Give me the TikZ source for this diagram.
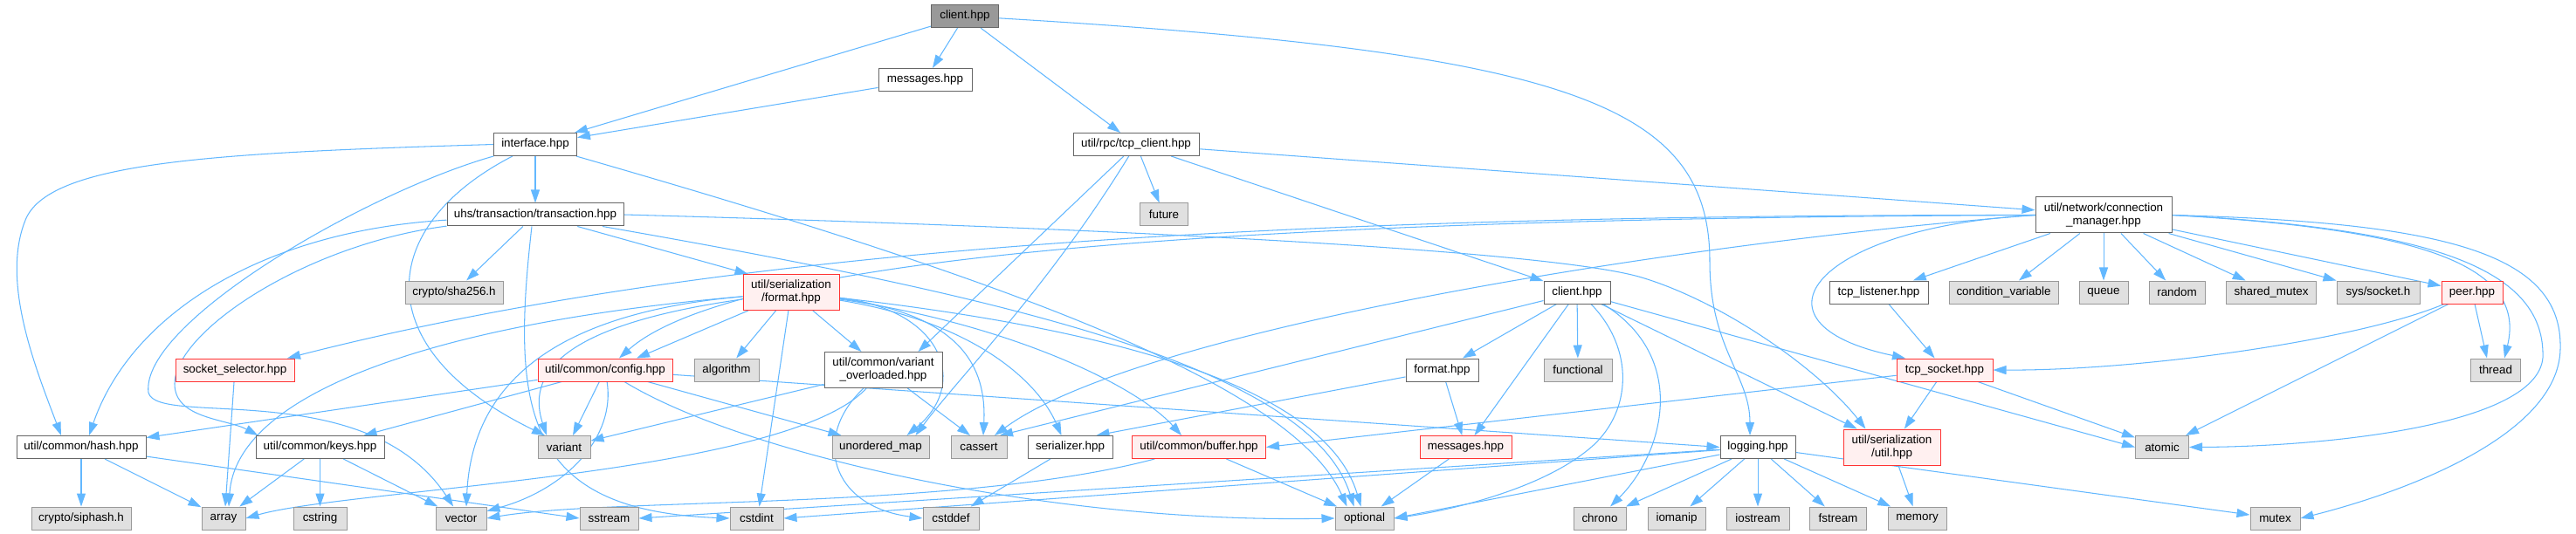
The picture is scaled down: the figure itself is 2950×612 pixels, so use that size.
\documentclass[tikz,border=0pt]{standalone}
\usepackage{fontspec}
\setmainfont{Liberation Sans}
\usetikzlibrary{arrows.meta}
\definecolor{eb}{HTML}{63B8FF}
\definecolor{cdark}{HTML}{666666}
\definecolor{cmid}{HTML}{999999}
\definecolor{clight}{HTML}{E0E0E0}
\definecolor{cred}{HTML}{FF3333}
\definecolor{cpink}{HTML}{FFF0F0}
\pgfdeclarelayer{bg}
\pgfsetlayers{bg,main}
\begin{document}
\begin{tikzpicture}[x=1pt,y=-1pt,
  box/.style={draw, line width=1pt, rectangle, inner sep=0pt, minimum height=26pt,
    font=\fontsize{13.4}{15}\selectfont, align=center, text=black},
  plain/.style={box, draw=cdark, fill=white},
  ext/.style={box, draw=cmid, fill=clight},
  hot/.style={box, draw=cred, fill=cpink},
  root/.style={box, draw=cdark, fill=cmid},
  tall/.style={minimum height=41pt},
  e/.style={draw=eb, line width=1.05pt, -{Triangle[length=15pt,width=10pt]}}
]
\useasboundingbox (0,0) rectangle (2950,612);

% row 0-2
\node[root, minimum width=77pt] (C0) at (1105,18.5) {client.hpp};
\node[plain, minimum width=107pt] (M0) at (1059.5,91.5) {messages.hpp};
\node[plain, minimum width=95pt] (IF) at (613,165.5) {interface.hpp};
\node[plain, minimum width=144pt] (TC) at (1301,165.5) {util/rpc/tcp\_client.hpp};
% row 3
\node[plain, minimum width=202pt] (TX) at (613,246) {uhs/transaction/transaction.hpp};
\node[ext, minimum width=55pt] (FUT) at (1333,246) {future};
\node[plain, tall, minimum width=156pt] (CM) at (2409,246.5) {util/network/connection\\\_manager.hpp};
% row 4
\node[ext, minimum width=112pt] (SHA) at (520,335) {crypto/sha256.h};
\node[hot, tall, minimum width=110pt] (FMT) at (906,335) {util/serialization\\/format.hpp};
\node[plain, minimum width=76pt] (CL2) at (1806,335) {client.hpp};
\node[plain, minimum width=113pt] (TL) at (2151.5,335) {tcp\_listener.hpp};
\node[ext, minimum width=125pt] (CV) at (2294.5,335) {condition\_variable};
\node[ext, minimum width=56pt] (Q) at (2409,335) {queue};
\node[ext, minimum width=64pt] (RND) at (2493,335) {random};
\node[ext, minimum width=103pt] (SM) at (2601,335) {shared\_mutex};
\node[ext, minimum width=95pt] (SYS) at (2723.5,335) {sys/socket.h};
\node[hot, minimum width=70pt] (PEER) at (2831,335) {peer.hpp};
% row 5
\node[hot, minimum width=136pt] (SS) at (269,424) {socket\_selector.hpp};
\node[hot, minimum width=154pt] (CFG) at (693,424) {util/common/config.hpp};
\node[ext, minimum width=74pt] (ALG) at (832,424) {algorithm};
\node[plain, tall, minimum width=135pt] (VO) at (1011.5,424) {util/common/variant\\\_overloaded.hpp};
\node[plain, minimum width=83pt] (FMT2) at (1651.5,424) {format.hpp};
\node[ext, minimum width=78pt] (FN) at (1807,424) {functional};
\node[hot, minimum width=110pt] (TS) at (2227,424) {tcp\_socket.hpp};
\node[ext, minimum width=57pt] (THR) at (2858,424) {thread};
% row 6
\node[plain, minimum width=148pt] (HASH) at (93,512.5) {util/common/hash.hpp};
\node[plain, minimum width=147pt] (KEYS) at (366.5,512.5) {util/common/keys.hpp};
\node[ext, minimum width=60pt] (VAR) at (646,512.5) {variant};
\node[ext, minimum width=111pt] (UM) at (1008.5,512.5) {unordered\_map};
\node[ext, minimum width=64pt] (CAS) at (1121,512.5) {cassert};
\node[plain, minimum width=97pt] (SER) at (1225.5,512.5) {serializer.hpp};
\node[hot, minimum width=153pt] (BUF) at (1373,512.5) {util/common/buffer.hpp};
\node[hot, minimum width=105pt] (M2) at (1678.5,512.5) {messages.hpp};
\node[plain, minimum width=86pt] (LOG) at (2013,512.5) {logging.hpp};
\node[hot, tall, minimum width=111pt] (SUTIL) at (2166.5,512.5) {util/serialization\\/util.hpp};
\node[ext, minimum width=61pt] (ATO) at (2476,512.5) {atomic};
% row 7
\node[ext, minimum width=114pt] (SIP) at (93,594) {crypto/siphash.h};
\node[ext, minimum width=50pt] (ARR) at (256,594) {array};
\node[ext, minimum width=61pt] (CSTR) at (366.5,594) {cstring};
\node[ext, minimum width=58pt] (VEC) at (528,594) {vector};
\node[ext, minimum width=67pt] (SST) at (697.5,594) {sstream};
\node[ext, minimum width=61pt] (CI) at (866.5,594) {cstdint};
\node[ext, minimum width=64pt] (CDD) at (1089,594) {cstddef};
\node[ext, minimum width=67pt] (OPT) at (1562.5,594) {optional};
\node[ext, minimum width=60pt] (CHR) at (1832,594) {chrono};
\node[ext, minimum width=66pt] (IOM) at (1920,594) {iomanip};
\node[ext, minimum width=72pt] (IOS) at (2013,594) {iostream};
\node[ext, minimum width=65pt] (FST) at (2105,594) {fstream};
\node[ext, minimum width=67pt] (MEM) at (2195.5,594) {memory};
\node[ext, minimum width=57pt] (MTX) at (2605.5,594) {mutex};

\begin{pgfonlayer}{bg}
\fill[white] (0,0) rectangle (2950,612);
% client.hpp (root)
\draw[e] (C0) -- (IF);
\draw[e] (C0) -- (M0);
\draw[e] (C0) -- (TC);
\draw[e] (C0) .. controls (1800,60) and (1958,120) .. (1958,300) .. controls (1958,400) and (2004,430) .. ([xshift=-9pt]LOG.north);
\draw[e] (M0) -- (IF);
% interface.hpp
\draw[e] (IF) -- (TX);
\draw[e] (IF.west) .. controls (250,175) and (60,185) .. (30,250) .. controls (0,320) and (40,420) .. ([xshift=-23pt]HASH.north);
\draw[e] (IF) .. controls (420,220) and (160,370) .. (170,450) .. controls (180,490) and (420,430) .. (VEC);
\draw[e] (IF) .. controls (430,260) and (420,400) .. ([xshift=-22pt]VAR.north);
\draw[e] (IF) .. controls (1150,320) and (1480,440) .. ([xshift=-20pt]OPT.north);
% tcp_client
\draw[e] (TC) -- (CM);
\draw[e] (TC) -- (CL2);
\draw[e] (TC) -- (FUT);
\draw[e] (TC) -- ([xshift=40pt]VO.north);
\draw[e] (TC) .. controls (1200,330) and (1100,430) .. ([xshift=40pt]UM.north);
% transaction
\draw[e] (TX) .. controls (300,265) and (150,360) .. ([xshift=9pt]HASH.north);
\draw[e] (TX) .. controls (350,280) and (200,380) .. (200,440) .. controls (200,480) and (260,480) .. ([xshift=3pt]KEYS.north west);
\draw[e] (TX) -- (SHA);
\draw[e] (TX) -- ([xshift=6pt]FMT.north west);
\draw[e] ([xshift=-4pt]TX.south) .. controls (585,470) and (600,585) .. (CI.west);
\draw[e] (TX.east) .. controls (1300,262) and (1780,288) .. (1880,318) .. controls (1970,345) and (2080,420) .. ([xshift=-30pt]SUTIL.north);
\draw[e] (TX) .. controls (1150,340) and (1500,420) .. ([xshift=-12pt]OPT.north);
% serialization/format
\draw[e] (FMT) -- ([xshift=36pt]CFG.north);
\draw[e] (FMT) -- (ALG);
\draw[e] (FMT) -- ([xshift=-25pt]VO.north);
\draw[e] (FMT) -- ([xshift=3pt]CI.north);
\draw[e] (FMT) .. controls (660,370) and (600,420) .. ([xshift=-20pt]VAR.north);
\draw[e] (FMT) .. controls (500,370) and (270,450) .. ([xshift=6pt]ARR.north);
\draw[e] (FMT) .. controls (620,360) and (540,450) .. ([xshift=6pt]VEC.north);
\draw[e] (FMT) .. controls (1080,355) and (1110,440) .. ([xshift=30pt]UM.north);
\draw[e] (FMT) .. controls (1100,360) and (1130,420) .. ([xshift=5pt]CAS.north);
\draw[e] (FMT) .. controls (1120,370) and (1190,440) .. ([xshift=-10pt]SER.north);
\draw[e] (FMT) .. controls (1150,370) and (1300,440) .. ([xshift=-20pt]BUF.north);
\draw[e] (FMT) .. controls (1300,380) and (1520,450) .. ([xshift=-4pt]OPT.north);
% config
\draw[e] (CFG) -- (HASH);
\draw[e] (CFG) -- ([xshift=50pt]KEYS.north);
\draw[e] (CFG) -- ([xshift=10pt]VAR.north);
\draw[e] (CFG) .. controls (705,500) and (650,560) .. (VEC);
\draw[e] (CFG) -- ([xshift=-45pt]UM.north);
\draw[e] (CFG) -- (LOG.west);
\draw[e] (CFG) .. controls (850,520) and (1200,600) .. (OPT.west);
% variant_overloaded
\draw[e] (VO) -- (VAR);
\draw[e] (VO) -- ([xshift=-10pt]CAS.north);
\draw[e] (VO) .. controls (930,500) and (950,580) .. (CDD.west);
\draw[e] (VO) .. controls (900,545) and (400,560) .. (ARR.east);
% socket selector, hash, keys
\draw[e] (SS) -- ([xshift=2pt]ARR.north);
\draw[e] (HASH) -- (SIP);
\draw[e] (HASH) -- (ARR);
\draw[e] (HASH) -- (SST.west);
\draw[e] (KEYS) -- (ARR);
\draw[e] (KEYS) -- (CSTR);
\draw[e] (KEYS) -- (VEC);
% serializer, buffer, messages, format2
\draw[e] (SER) -- (CDD);
\draw[e] (BUF) -- (OPT);
\draw[e] (BUF) .. controls (1100,585) and (700,570) .. (VEC.east);
\draw[e] (M2) -- (OPT);
\draw[e] (FMT2) -- ([xshift=30pt]SER.north);
\draw[e] (FMT2) -- (M2);
% client.hpp (second)
\draw[e] (CL2) -- (FMT2);
\draw[e] (CL2) -- (FN);
\draw[e] (CL2) -- ([xshift=10pt]M2.north);
\draw[e] (CL2) -- ([xshift=24pt]CAS.north);
\draw[e] ([xshift=16pt]CL2.south) .. controls (1872,400) and (1868,470) .. (1825,510) .. controls (1770,560) and (1660,585) .. (OPT.east);
\draw[e] ([xshift=30pt]CL2.south) .. controls (1935,410) and (1905,520) .. ([xshift=12pt]CHR.north);
\draw[e] (CL2) -- ([xshift=-40pt]SUTIL.north);
\draw[e] (CL2) -- (ATO.west);
% connection manager
\draw[e] (CM) -- (TL);
\draw[e] (CM) -- (CV);
\draw[e] (CM) -- (Q);
\draw[e] (CM) -- (RND);
\draw[e] (CM) -- (SM);
\draw[e] (CM) -- (SYS);
\draw[e] (CM) -- (PEER);
\draw[e] (CM.west) .. controls (2080,260) and (1990,370) .. ([xshift=-45pt]TS.north);
\draw[e] (CM.east) .. controls (2760,262) and (2895,300) .. ([xshift=10pt]THR.north);
\draw[e] (CM.east) .. controls (2800,255) and (2935,290) .. (2932,400) .. controls (2930,500) and (2750,565) .. (MTX.east);
\draw[e] (CM.east) .. controls (2790,262) and (2915,310) .. (2912,410) .. controls (2905,490) and (2650,512) .. (ATO.east);
\draw[e] (CM.west) .. controls (1500,250) and (850,285) .. ([xshift=16pt]CFG.north);
\draw[e] (CM.west) .. controls (1400,246) and (800,290) .. ([xshift=60pt]SS.north);
\draw[e] (CM.west) .. controls (1900,280) and (1300,380) .. ([xshift=18pt]CAS.north);
% peer, listener, socket
\draw[e] (PEER) .. controls (2700,390) and (2450,425) .. (TS.east);
\draw[e] (PEER) -- ([xshift=-10pt]THR.north);
\draw[e] (PEER) -- (ATO);
\draw[e] (TL) -- (TS);
\draw[e] (TS) -- (BUF.east);
\draw[e] (TS) -- (SUTIL);
\draw[e] (TS) -- (ATO);
\draw[e] (SUTIL) -- (MEM);
% logging
\draw[e] (LOG) -- (SST.east);
\draw[e] (LOG) -- (CI.east);
\draw[e] (LOG) -- (OPT.east);
\draw[e] (LOG) -- (CHR);
\draw[e] (LOG) -- (IOM);
\draw[e] (LOG) -- (IOS);
\draw[e] (LOG) -- (FST);
\draw[e] (LOG) -- (MEM);
\draw[e] (LOG) -- (MTX);
\end{pgfonlayer}
\end{tikzpicture}
\end{document}
